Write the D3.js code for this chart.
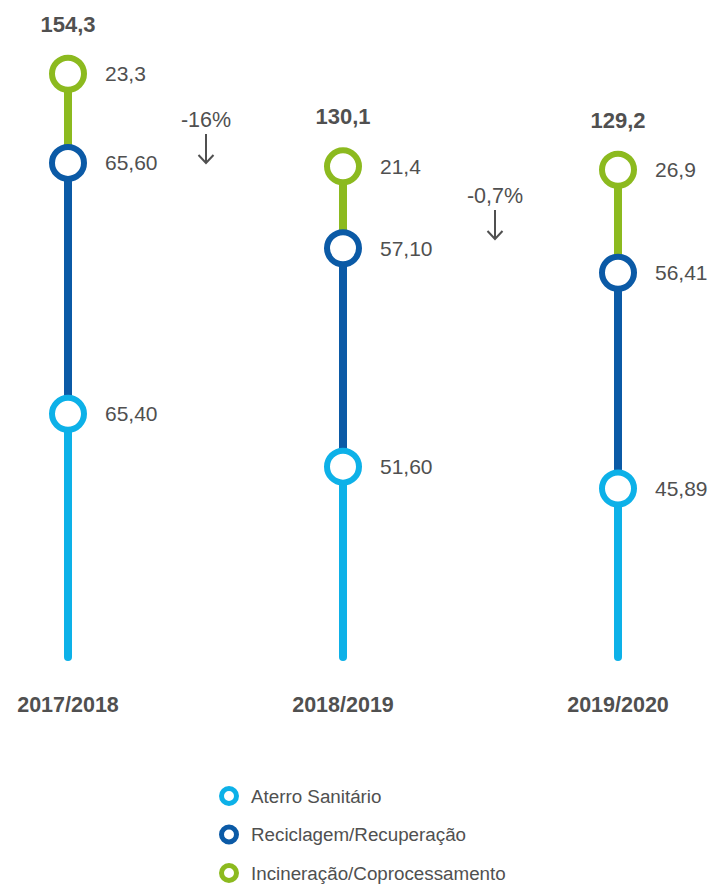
<!DOCTYPE html>
<html><head><meta charset="utf-8">
<script src="https://cdn.jsdelivr.net/npm/d3@7"></script>
<style>body{margin:0;background:#fff}svg{display:block}text{font-family:"Liberation Sans",Arial,Helvetica,sans-serif}</style>
</head><body><svg id="c" width="715" height="886"></svg>
<script>
const categories = ["2017/2018", "2018/2019", "2019/2020"];
const seriesNames = ["Aterro Sanitário", "Reciclagem/Recuperação", "Incineração/Coprocessamento"];
const aterro = [65.40, 51.60, 45.89];
const reciclagem = [65.60, 57.10, 56.41];
const incineracao = [23.3, 21.4, 26.9];
const valueLabels = [["65,40", "51,60", "45,89"], ["65,60", "57,10", "56,41"], ["23,3", "21,4", "26,9"]];
const totals = ["154,3", "130,1", "129,2"];
const changes = ["-16%", "-0,7%"];
const colors = ["#0db1e8", "#0b5aa6", "#8cba1f"];
const textColor = "#505050";

const svg = d3.select("#c");
const x = d3.scalePoint().domain(categories).range([68, 618]);
const y = d3.scaleLinear().domain([0, 160]).range([664, 52]);
const series = [aterro, reciclagem, incineracao];

categories.forEach((cat, i) => {
  const cx = x(cat);
  let cum = 0;
  const pts = series.map(s => { const a = cum; cum += s[i]; return [a, cum]; });
  pts.forEach((p, j) => {
    svg.append("line")
      .attr("x1", cx).attr("x2", cx)
      .attr("y1", j === 0 ? y(p[0]) - 7 : y(p[0]))
      .attr("y2", y(p[1]))
      .attr("stroke", colors[j]).attr("stroke-width", 8)
      .attr("stroke-linecap", j === 0 ? "round" : "butt");
  });
  pts.forEach((p, j) => {
    svg.append("circle").attr("cx", cx).attr("cy", y(p[1])).attr("r", 16)
      .attr("fill", "#fff").attr("stroke", colors[j]).attr("stroke-width", 6);
    svg.append("text").attr("x", cx + 37).attr("y", y(p[1]) + 7.5)
      .attr("font-size", 21).attr("fill", textColor).text(valueLabels[j][i]);
  });
  svg.append("text").attr("x", cx).attr("y", y(cum) - 42)
    .attr("text-anchor", "middle").attr("font-size", 22).attr("font-weight", "bold")
    .attr("fill", textColor).text(totals[i]);
  svg.append("text").attr("x", cx).attr("y", 712)
    .attr("text-anchor", "middle").attr("font-size", 21.5).attr("font-weight", "bold")
    .attr("fill", textColor).text(cat);
});

const changeX = [206, 495];
const changeY = [127, 203];
changes.forEach((c, i) => {
  const cxp = changeX[i];
  const ty = changeY[i];
  svg.append("text").attr("x", cxp).attr("y", ty).attr("text-anchor", "middle")
    .attr("font-size", 21.5).attr("fill", textColor).text(c);
  const a0 = ty + 7, a1 = ty + 36;
  svg.append("path")
    .attr("d", `M${cxp},${a0}V${a1}M${cxp - 7.5},${a1 - 8}L${cxp},${a1}L${cxp + 7.5},${a1 - 8}`)
    .attr("fill", "none").attr("stroke", textColor).attr("stroke-width", 2);
});

const legend = svg.append("g");
seriesNames.forEach((n, i) => {
  const ly = 796 + i * 38.5;
  legend.append("circle").attr("cx", 229).attr("cy", ly).attr("r", 7.5)
    .attr("fill", "#fff").attr("stroke", colors[i]).attr("stroke-width", 5);
  legend.append("text").attr("x", 251).attr("y", ly + 6.5)
    .attr("font-size", 18.8).attr("fill", textColor).text(n);
});
</script></body></html>
